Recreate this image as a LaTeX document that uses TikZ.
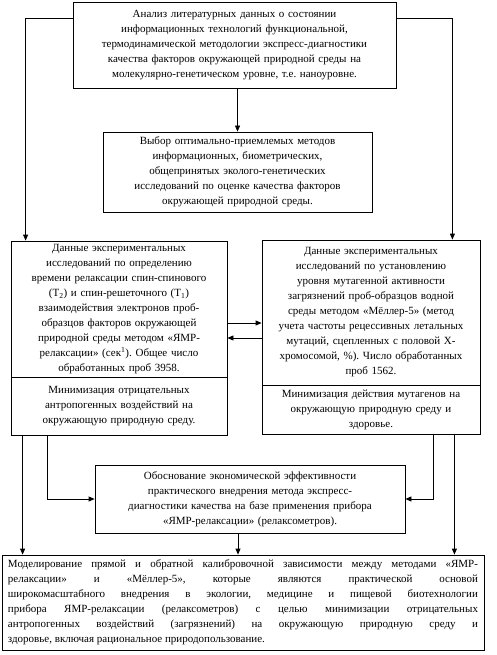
\documentclass[tikz,border=0pt]{standalone}
\usepackage{fontspec}
\setmainfont{Liberation Serif}
\usetikzlibrary{arrows.meta,calc,positioning}
\hyphenpenalty=10000\relax
\frenchspacing

\begin{document}
\begin{tikzpicture}[x=1pt,y=-1pt,
    box/.style={draw=black,thick,rectangle,inner sep=2pt,align=center,
      font=\fontsize{11}{15}\selectfont},
    arr/.style={-{Triangle[length=6pt,width=5pt]},thick}]
  \useasboundingbox (0,0) rectangle (497,655);
  % top box
  \node[box,minimum width=323pt,minimum height=86pt,text width=315pt] (analiz) at (234.5,45)
    {Анализ литературных данных о состоянии\\
     информационных технологий функциональной,\\
     термодинамической методологии экспресс-диагностики\\
     качества факторов окружающей природной среды на\\
     молекулярно-генетическом уровне, т.е. наноуровне.};
  \node[box,minimum width=269pt,minimum height=80pt,text width=262pt] (vybor) at (237.5,172)
    {Выбор оптимально-приемлемых методов\\
     информационных, биометрических,\\
     общепринятых эколого-генетических\\
     исследований по оценке качества факторов\\
     окружающей природной среды.};
  % left column
  \node[box,minimum width=216pt,minimum height=136pt,text width=210pt] (yamr) at (119,309)
    {Данные экспериментальных\\
     исследований по определению\\
     времени релаксации спин-спинового\\
     (T\textsubscript{2}) и спин-решеточного (T\textsubscript{1})\\
     взаимодействия электронов проб-\\
     образцов факторов окружающей\\
     природной среды методом «ЯМР-\\
     релаксации» (сек\textsuperscript{1}). Общее число\\
     обработанных проб 3958.};
  \node[box,minimum width=216pt,minimum height=58pt,text width=210pt] (minL) at (119,406)
    {Минимизация отрицательных\\
     антропогенных воздействий на\\
     окружающую природную среду.};
  % right column
  \node[box,minimum width=218pt,minimum height=145pt,text width=212pt] (meller) at (371,312.5)
    {Данные экспериментальных\\
     исследований по установлению\\
     уровня мутагенной активности\\
     загрязнений проб-образцов водной\\
     среды методом «Мёллер-5» (метод\\
     учета частоты рецессивных летальных\\
     мутаций, сцепленных с половой X-\\
     хромосомой, \%). Число обработанных\\
     проб 1562.};
  \node[box,minimum width=218pt,minimum height=49pt,text width=212pt] (minR) at (371,409.5)
    {Минимизация действия мутагенов на\\
     окружающую природную среду и\\
     здоровье.};
  % economy box
  \node[box,minimum width=310pt,minimum height=68pt,text width=304pt] (obosn) at (250,499)
    {Обоснование экономической эффективности\\
     практического внедрения метода экспресс-\\
     диагностики качества на базе применения прибора\\
     «ЯМР-релаксации» (релаксометров).};
  % bottom box
  \node[box,minimum width=482pt,minimum height=95pt,text width=470pt,align=justify] (model) at (243,602.5)
    {\tolerance=10000\relax
     Моделирование прямой и обратной калибровочной зависимости между методами «ЯМР-\linebreak
     релаксации» и «Мёллер-5», которые являются практической основой\linebreak
     широкомасштабного внедрения в экологии, медицине и пищевой биотехнологии\linebreak
     прибора ЯМР-релаксации (релаксометров) с целью минимизации отрицательных\linebreak
     антропогенных воздействий (загрязнений) на окружающую природную среду и\linebreak
     здоровье, включая рациональное природопользование.};
  % arrows
  \draw[arr] ([yshift=-17pt]analiz.north west) -| ([xshift=15pt]yamr.north west);
  \draw[arr] ([yshift=-17pt]analiz.north east) -| ([xshift=-28pt]meller.north east);
  \draw[arr] (vybor.north |- analiz.south) -- (vybor.north);
  \draw[arr] ([yshift=-14pt]yamr.east) -- ([yshift=-14pt]yamr.east -| meller.west);
  \draw[arr] ([yshift=-29pt]yamr.east -| meller.west) -- ([yshift=-29pt]yamr.east);
  \draw[arr] ([xshift=12pt]minL.south west) -- ([xshift=12pt]minL.south west |- model.north);
  \draw[arr] ([xshift=37pt]minL.south west) |- (obosn.west);
  \draw[arr] ([xshift=-26pt]minR.south east) -- ([xshift=-26pt]minR.south east |- model.north);
  \draw[arr] ([xshift=-47pt]minR.south east) |- (obosn.east);
  \draw[arr] ([xshift=-12pt]obosn.south) -- ([xshift=-12pt]obosn.south |- model.north);
\end{tikzpicture}
\end{document}
